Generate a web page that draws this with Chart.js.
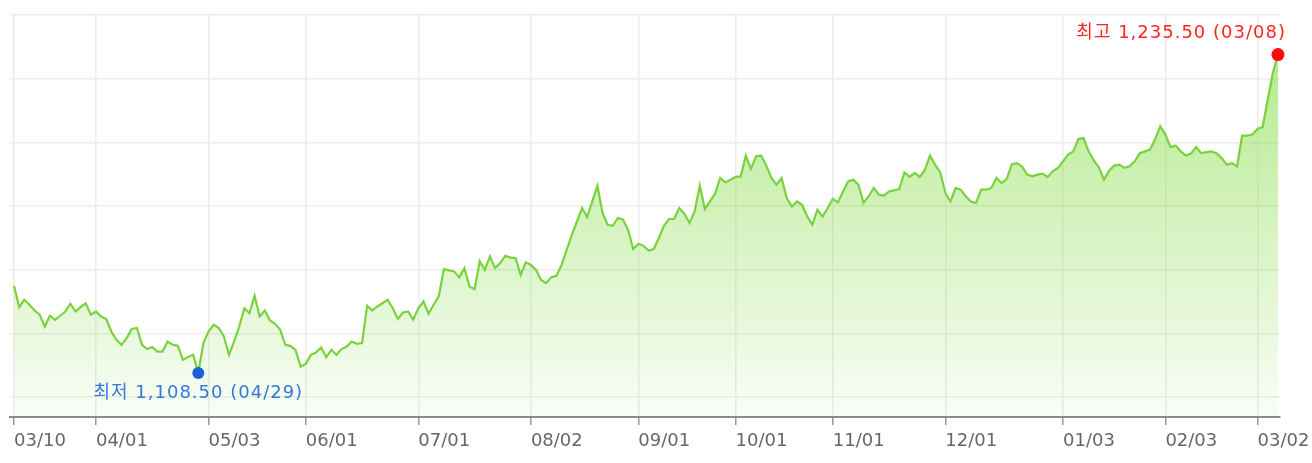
<!DOCTYPE html>
<html lang="ko">
<head>
<meta charset="utf-8">
<script src="https://cdn.jsdelivr.net/npm/chart.js@4.4.1/dist/chart.umd.min.js"></script>
<style>
  html, body { margin: 0; padding: 0; background: #fff; }
</style>
</head>
<body>
<canvas id="rateChart" width="1312" height="463"></canvas>
<script>
// 일별 환율 (03/10 ~ 03/08, 거래일 기준)
const rates = [
  1143.2, 1134.7, 1137.7, 1135.7, 1133.4, 1131.7, 1127.0, 1131.3, 1129.7, 1131.3,
  1133.0, 1136.1, 1133.0, 1134.7, 1136.3, 1131.7, 1133.0, 1131.0, 1130.0, 1125.0,
  1121.7, 1119.7, 1122.4, 1126.0, 1126.4, 1119.7, 1118.0, 1118.8, 1117.0, 1117.0,
  1121.0, 1119.7, 1119.3, 1113.7, 1114.8, 1115.7, 1108.5, 1120.4, 1125.0, 1127.7,
  1126.4, 1123.0, 1115.7, 1121.0, 1127.0, 1134.3, 1132.3, 1139.3, 1131.0, 1133.4,
  1129.4, 1128.1, 1125.7, 1119.7, 1119.3, 1117.7, 1111.0, 1112.1, 1115.7, 1116.6,
  1118.6, 1114.8, 1117.7, 1115.7, 1118.0, 1119.0, 1121.0, 1120.1, 1120.4, 1135.3,
  1133.4, 1135.0, 1136.3, 1137.7, 1134.3, 1130.0, 1132.6, 1133.0, 1129.7, 1134.3,
  1137.0, 1132.1, 1135.7, 1139.0, 1149.9, 1149.4, 1149.0, 1146.6, 1150.3, 1143.0,
  1141.9, 1153.0, 1149.6, 1155.0, 1150.3, 1152.3, 1155.2, 1154.5, 1154.3, 1147.6,
  1152.6, 1151.6, 1149.6, 1145.6, 1144.3, 1146.7, 1147.2, 1151.6, 1157.6, 1163.6,
  1168.9, 1174.3, 1170.7, 1176.9, 1183.2, 1172.3, 1167.6, 1167.2, 1170.3, 1169.6,
  1165.6, 1157.9, 1160.0, 1159.2, 1157.3, 1157.9, 1162.3, 1167.2, 1169.9, 1170.0,
  1174.3, 1172.0, 1168.3, 1172.9, 1183.2, 1173.9, 1176.9, 1180.0, 1186.3, 1184.5,
  1185.6, 1186.7, 1186.9, 1195.2, 1189.9, 1194.9, 1195.2, 1191.2, 1186.4, 1183.6,
  1186.3, 1178.3, 1174.9, 1176.9, 1175.6, 1170.9, 1167.6, 1173.6, 1170.9, 1174.3,
  1177.9, 1176.5, 1180.9, 1184.9, 1185.6, 1183.6, 1176.3, 1178.9, 1182.3, 1179.6,
  1179.2, 1180.9, 1181.3, 1181.9, 1188.5, 1186.7, 1188.3, 1186.7, 1189.6, 1195.2,
  1191.6, 1188.5, 1180.3, 1176.9, 1182.3, 1181.6, 1178.9, 1176.9, 1176.3, 1181.6,
  1181.6, 1182.3, 1186.3, 1184.3, 1185.9, 1191.8, 1192.2, 1190.8, 1187.6, 1186.9,
  1187.6, 1188.0, 1186.7, 1188.9, 1190.3, 1192.9, 1195.6, 1196.9, 1201.8, 1202.2,
  1196.9, 1193.3, 1190.5, 1185.6, 1189.2, 1191.2, 1191.6, 1190.3, 1190.9, 1192.9,
  1196.2, 1196.9, 1197.6, 1201.8, 1206.9, 1203.6, 1198.6, 1199.2, 1196.9, 1195.2,
  1196.0, 1198.6, 1196.2, 1196.6, 1196.9, 1196.2, 1194.2, 1191.6, 1192.2, 1190.9,
  1203.2, 1203.2, 1203.6, 1205.8, 1206.6, 1217.5, 1228.2, 1235.5
];

// x축 눈금: 날짜 라벨과 해당 거래일 순번
const tickLabels = ['03/10', '04/01', '05/03', '06/01', '07/01', '08/02', '09/01',
  '10/01', '11/01', '12/01', '01/03', '02/03', '03/02'];
const tickIndex = [0, 16, 38, 57, 79, 101, 122, 141, 160, 182, 205, 225, 243];

// 최저/최고 날짜
const lowDate = '04/29';
const highDate = '03/08';

// y축 범위와 가로 격자
const yAxisMin = 1090.9;
const yAxisMax = 1251.3;
const yGridStep = 25.4;
const yGridCount = 7;

const fontFamily = '"DejaVu Sans", "Noto Sans CJK KR", sans-serif';

const points = rates.map((v, i) => ({ x: i, y: v }));
const lowVal = Math.min(...rates);
const highVal = Math.max(...rates);
const lowIdx = rates.indexOf(lowVal);
const highIdx = rates.indexOf(highVal);

function fmt(v) {
  return v.toLocaleString('en-US', { minimumFractionDigits: 2, maximumFractionDigits: 2 });
}

// 최저, 최고 표시
const extremaPlugin = {
  id: 'extrema',
  afterDatasetsDraw(chart) {
    const meta = chart.getDatasetMeta(0);
    const lo = meta.data[lowIdx];
    const hi = meta.data[highIdx];
    const ctx = chart.ctx;
    ctx.save();
    ctx.font = '18px ' + fontFamily;
    ctx.letterSpacing = '1px';
    ctx.textBaseline = 'middle';

    ctx.fillStyle = '#1c62d6';
    ctx.beginPath();
    ctx.arc(lo.x, lo.y, 6, 0, Math.PI * 2);
    ctx.fill();
    ctx.fillStyle = '#3478dc';
    ctx.textAlign = 'center';
    ctx.fillText('최저 ' + fmt(lowVal) + ' (' + lowDate + ')', lo.x, lo.y + 20);

    ctx.fillStyle = '#ff0d0d';
    ctx.beginPath();
    ctx.arc(hi.x, hi.y, 6.5, 0, Math.PI * 2);
    ctx.fill();
    ctx.fillStyle = '#ff2424';
    ctx.textAlign = 'right';
    ctx.fillText('최고 ' + fmt(highVal) + ' (' + highDate + ')', hi.x + 8, hi.y - 21);
    ctx.restore();
  }
};

const ctx = document.getElementById('rateChart').getContext('2d');

new Chart(ctx, {
  type: 'line',
  data: {
    datasets: [{
      data: points,
      borderColor: '#78d33e',
      borderWidth: 2.2,
      pointRadius: 0,
      tension: 0,
      fill: 'start',
      backgroundColor: (c) => {
        const area = c.chart.chartArea;
        if (!area) return 'rgba(140,220,80,0.3)';
        const g = c.chart.ctx.createLinearGradient(0, area.top, 0, area.bottom);
        g.addColorStop(0, 'rgba(140,222,80,0.7)');
        g.addColorStop(1, 'rgba(140,222,80,0.05)');
        return g;
      }
    }]
  },
  options: {
    responsive: false,
    devicePixelRatio: 1,
    animation: false,
    layout: { padding: { left: 10, right: 32, top: 15, bottom: 0 } },
    plugins: {
      legend: { display: false },
      tooltip: { enabled: false }
    },
    scales: {
      x: {
        type: 'linear',
        min: -0.8,
        max: rates.length - 1 + 0.4,
        afterBuildTicks: (s) => { s.ticks = tickIndex.map(v => ({ value: v })); },
        afterFit: (s) => { s.height = 46; s.paddingLeft = 0; s.paddingRight = 0; },
        grid: { color: '#ececec', lineWidth: 1.5, tickLength: 8, tickColor: '#9a9a9a', tickWidth: 1.5 },
        border: { display: true, color: '#8a8a8a', width: 2 },
        ticks: {
          align: 'start',
          padding: 6,
          autoSkip: false,
          maxRotation: 0,
          color: '#666666',
          font: { family: fontFamily, size: 18 },
          callback: (v, i) => tickLabels[i]
        }
      },
      y: {
        min: yAxisMin,
        max: yAxisMax,
        afterBuildTicks: (s) => {
          const t = [];
          for (let j = 0; j < yGridCount; j++) t.push({ value: yAxisMax - j * yGridStep });
          s.ticks = t;
        },
        afterFit: (s) => { s.width = 0; },
        grid: { color: '#ececec', lineWidth: 1.5, drawTicks: false },
        border: { display: false },
        ticks: { display: false }
      }
    }
  },
  plugins: [extremaPlugin]
});
</script>
</body>
</html>
